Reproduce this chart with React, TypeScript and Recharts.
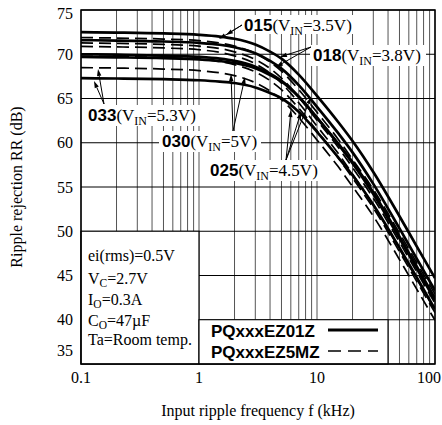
import React from 'react';
import { LineChart, Line, XAxis, YAxis, CartesianGrid, ReferenceArea } from 'recharts';

const serif = '"Liberation Serif", "Times New Roman", serif';
const sans = '"Liberation Sans", Arial, sans-serif';

// input ripple frequency, kHz
const freqs = [0.1, 0.2, 0.5, 1, 1.5, 2, 3, 4, 5, 7, 10, 15, 20, 30, 50, 70, 100];

// PQxxxEZ01Z (solid), ripple rejection dB
const ez01_015 = [72.5, 72.45, 72.35, 72.2, 72.0, 71.75, 71.1, 70.3, 69.5, 67.7, 65.3, 62.4, 60.2, 56.7, 51.7, 48.3, 44.7];
const ez01_018 = [71.6, 71.55, 71.44, 71.28, 71.07, 70.79, 70.1, 69.25, 68.38, 66.51, 64.06, 61.14, 58.91, 55.35, 50.32, 46.9, 43.3];
const ez01_025 = [70.0, 69.95, 69.85, 69.7, 69.5, 69.25, 68.6, 67.8, 67.0, 65.2, 62.8, 59.9, 57.7, 54.2, 49.2, 45.8, 42.2];
const ez01_030 = [69.7, 69.65, 69.56, 69.42, 69.23, 69.01, 68.41, 67.66, 66.93, 65.21, 62.85, 59.97, 57.81, 54.37, 49.4, 46.02, 42.43];
const ez01_033 = [67.3, 67.26, 67.18, 67.06, 66.91, 66.75, 66.25, 65.62, 65.03, 63.49, 61.24, 58.41, 56.33, 53.0, 48.13, 44.78, 41.2];

// PQxxxEZ5MZ (dashed)
const ez5m_015 = [71.89, 71.83, 71.72, 71.54, 71.28, 70.92, 70.1, 69.12, 68.09, 66.0, 63.44, 60.46, 58.12, 54.73, 49.79, 46.44, 42.9];
const ez5m_018 = [71.28, 71.23, 71.11, 70.92, 70.65, 70.27, 69.41, 68.39, 67.3, 65.15, 62.55, 59.55, 57.19, 53.74, 48.78, 45.41, 41.87];
const ez5m_025 = [70.88, 70.83, 70.71, 70.51, 70.22, 69.82, 68.93, 67.87, 66.73, 64.52, 61.88, 58.86, 56.47, 52.98, 47.99, 44.61, 41.06];
const ez5m_030 = [69.79, 69.73, 69.62, 69.44, 69.18, 68.82, 68.0, 67.02, 65.99, 63.9, 61.34, 58.36, 56.02, 52.63, 47.69, 44.34, 40.8];
const ez5m_033 = [68.49, 68.44, 68.33, 68.15, 67.9, 67.58, 66.79, 65.85, 64.87, 62.85, 60.32, 57.36, 55.06, 51.71, 46.8, 43.46, 39.94];

// x ticks double as the log grid; only decades get a label
const xLabels = [0.1, 1, 10, 100];
const xTicks = [
  0.1, 0.2, 0.3, 0.4, 0.5, 0.6, 0.7, 0.8, 0.9,
  1, 2, 3, 4, 5, 6, 7, 8, 9,
  10, 20, 30, 40, 50, 60, 70, 80, 90, 100,
];
const yTicks = [35, 40, 45, 50, 55, 60, 65, 70, 75];

const conditions = ['ei(rms)=0.5V', 'V|C|=2.7V', 'I|O|=0.3A', 'C|O|=47\u00b5F', 'Ta=Room temp.'];

const series = [
  { key: 's015', vals: ez01_015, dashed: false },
  { key: 's018', vals: ez01_018, dashed: false },
  { key: 's025', vals: ez01_025, dashed: false },
  { key: 's030', vals: ez01_030, dashed: false },
  { key: 's033', vals: ez01_033, dashed: false },
  { key: 'd015', vals: ez5m_015, dashed: true },
  { key: 'd018', vals: ez5m_018, dashed: true },
  { key: 'd025', vals: ez5m_025, dashed: true },
  { key: 'd030', vals: ez5m_030, dashed: true },
  { key: 'd033', vals: ez5m_033, dashed: true },
];

const rows = freqs.map((f, i) => {
  const r: Record<string, number> = { f };
  series.forEach((s) => { r[s.key] = s.vals[i]; });
  return r;
});

function YTick({ x, y, payload }: any) {
  const shift = payload.value === 35 ? -14 : payload.value === 75 ? 3 : 0;
  return (
    <text x={x} y={y + shift} dy="0.355em" textAnchor="end" fontFamily={serif} fontSize={16} fill="#000">
      {payload.value}
    </text>
  );
}

function XTick({ x, y, payload }: any) {
  if (!xLabels.includes(payload.value)) return <g />;
  const last = payload.value === 100;
  return (
    <text x={last ? x + 6 : x} y={y} dy="0.71em" textAnchor={last ? 'end' : 'middle'} fontFamily={serif} fontSize={16} fill="#000">
      {String(payload.value)}
    </text>
  );
}

function Arrow({ from, to }: { from: number[]; to: number[] }) {
  const [x1, y1] = from;
  const [x2, y2] = to;
  const a = Math.atan2(y2 - y1, x2 - x1);
  const len = 7, hw = 2.2;
  const bx = x2 - len * Math.cos(a), by = y2 - len * Math.sin(a);
  const pts = `${x2},${y2} ${bx + hw * Math.sin(a)},${by - hw * Math.cos(a)} ${bx - hw * Math.sin(a)},${by + hw * Math.cos(a)}`;
  return (
    <g>
      <line x1={x1} y1={y1} x2={bx} y2={by} stroke="#000" strokeWidth={1} />
      <polygon points={pts} fill="#000" />
    </g>
  );
}

function Tag({ x, y, num, vin, box, arrows }: any) {
  return (
    <g>
      <rect x={box[0]} y={box[1]} width={box[2]} height={box[3]} fill="#fff" />
      {arrows.map((t: number[], i: number) => <Arrow key={i} from={t.slice(0, 2)} to={t.slice(2)} />)}
      <text x={x} y={y} fontSize={17} fill="#000">
        <tspan fontFamily={sans} fontWeight="bold">{num}</tspan>
        <tspan fontFamily={serif}>(V</tspan>
        <tspan fontFamily={serif} fontSize={12} dy={4}>IN</tspan>
        <tspan fontFamily={serif} dy={-4}>={vin})</tspan>
      </text>
    </g>
  );
}

function Cond({ s, y }: { s: string; y: number }) {
  const parts = s.split('|');
  return (
    <text x={88} y={y} fontFamily={serif} fontSize={16} fill="#000">
      {parts.length === 1 ? s : (
        <>
          <tspan>{parts[0]}</tspan>
          <tspan fontSize={11.5} dy={3}>{parts[1]}</tspan>
          <tspan dy={-3}>{parts[2]}</tspan>
        </>
      )}
    </text>
  );
}

export default function App() {
  const condY = [261.3, 283.7, 304.7, 326.3, 344.7];
  return (
    <div style={{ position: 'absolute', left: 0, top: 0, width: 442, height: 425, background: '#fff' }}>
      <LineChart width={442} height={425} data={rows} margin={{ top: 10, right: 7, bottom: 0, left: 0 }}>
        <CartesianGrid horizontal={false} stroke="#555" strokeWidth={1} />
        <CartesianGrid vertical={false} stroke="#000" strokeWidth={1} />
        <XAxis
          dataKey="f"
          type="number"
          scale="log"
          domain={[0.1, 100]}
          ticks={xTicks}
          interval={0}
          allowDataOverflow
          height={61}
          tickLine={false}
          axisLine={false}
          tick={<XTick />}
        />
        <YAxis
          type="number"
          domain={[35, 75]}
          ticks={yTicks}
          interval={0}
          allowDataOverflow
          width={81}
          tickLine={false}
          axisLine={false}
          tick={<YTick />}
        />
        <ReferenceArea x1={0.1} x2={1} y1={35} y2={50} fill="#fff" fillOpacity={1} stroke="#000" strokeWidth={1.2} />
        <ReferenceArea x1={1} x2={40} y1={35} y2={40} fill="#fff" fillOpacity={1} stroke="#000" strokeWidth={1.2} />
        {series.map((s) => (
          <Line
            key={s.key}
            type="monotone"
            dataKey={s.key}
            stroke="#000"
            strokeWidth={s.dashed ? 1.7 : 2.7}
            strokeDasharray={s.dashed ? '12 6' : undefined}
            dot={false}
            activeDot={false}
            isAnimationActive={false}
          />
        ))}
        <ReferenceArea x1={0.1} x2={100} y1={35} y2={75} fill="none" stroke="#000" strokeWidth={1.5} />
      </LineChart>
      <svg width={442} height={425} style={{ position: 'absolute', left: 0, top: 0, pointerEvents: 'none' }}>
        <Tag x={244} y={31} num="015" vin="3.5V" box={[240, 15, 116, 19]}
          arrows={[[242, 25, 226, 35], [242, 25, 219, 39]]} />
        <Tag x={313} y={61} num="018" vin="3.8V" box={[310, 45, 116, 21]}
          arrows={[[311, 47, 280, 57], [311, 47, 276, 67]]} />
        <Tag x={88} y={121} num="033" vin="5.3V" box={[85, 105, 115, 21]}
          arrows={[[104, 104, 98, 69], [104, 104, 94, 81]]} />
        <Tag x={162} y={147} num="030" vin="5V" box={[159, 131, 102, 21]}
          arrows={[[233, 131, 231, 74], [233, 131, 245, 77]]} />
        <Tag x={210} y={176} num="025" vin="4.5V" box={[207, 160, 114, 21]}
          arrows={[[286, 160, 291, 110], [286, 160, 301, 112], [286, 160, 311, 97]]} />

        {conditions.map((c, i) => <Cond key={c} s={c} y={condY[i]} />)}

        <text x={211} y={337} fontFamily={sans} fontWeight="bold" fontSize={17} fill="#000">PQxxxEZ01Z</text>
        <line x1={328} y1={330} x2={378} y2={330} stroke="#000" strokeWidth={3} />
        <text x={211} y={358} fontFamily={sans} fontWeight="bold" fontSize={17} fill="#000">PQxxxEZ5MZ</text>
        <line x1={328} y1={351} x2={378} y2={351} stroke="#000" strokeWidth={1.5} strokeDasharray="13 7" />

        <text x={22} y={187} transform="rotate(-90 22 187)" textAnchor="middle" fontFamily={serif} fontSize={16} fill="#000">
          Ripple rejection RR (dB)
        </text>
        <text x={258} y={416} textAnchor="middle" fontFamily={serif} fontSize={16} fill="#000">
          Input ripple frequency f (kHz)
        </text>
      </svg>
    </div>
  );
}
